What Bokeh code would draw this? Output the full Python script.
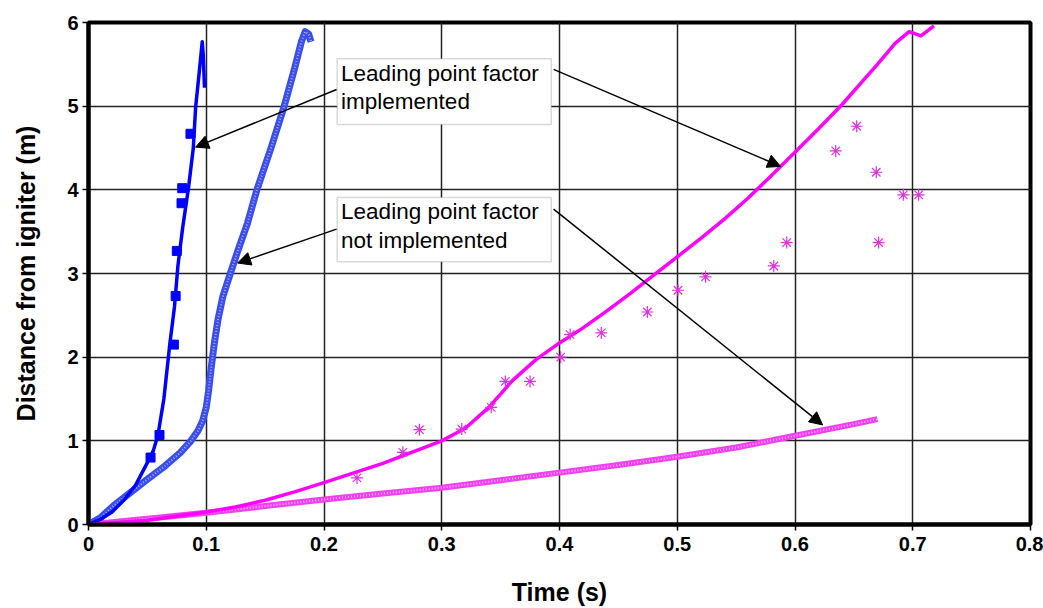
from bokeh.plotting import figure
from bokeh.models import (Arrow, NormalHead, Label, BoxAnnotation, FixedTicker,
                          CustomJSTickFormatter, Range1d)
from bokeh.embed import file_html
from bokeh.resources import INLINE

# ---------------- data ----------------
# Blue: leading point factor implemented (model line) + experiment squares
blue_impl_t = [0, 0.01, 0.02, 0.03, 0.04, 0.05, 0.055, 0.059, 0.064, 0.069, 0.073, 0.076,
               0.08, 0.085, 0.089, 0.091, 0.094, 0.0966, 0.0975, 0.0985]
blue_impl_y = [0, 0.06, 0.15, 0.29, 0.47, 0.74, 0.88, 1.07, 1.5, 2.15, 2.6, 3.1,
               3.55, 4.03, 4.5, 4.99, 5.4, 5.77, 5.6, 5.22]
blue_exp_t = [0.0527, 0.0603, 0.0725, 0.074, 0.075, 0.079, 0.0796, 0.0866]
blue_exp_y = [0.80, 1.07, 2.15, 2.73, 3.27, 3.84, 4.02, 4.67]
# Blue: leading point factor not implemented
blue_noimpl_t = [0, 0.01, 0.021, 0.03, 0.05, 0.065, 0.078, 0.087, 0.093, 0.097, 0.1, 0.102,
                 0.104, 0.107, 0.11, 0.114, 0.12, 0.127, 0.135, 0.143, 0.155, 0.166,
                 0.175, 0.181, 0.184, 0.187, 0.189]
blue_noimpl_y = [0, 0.08, 0.22, 0.32, 0.54, 0.70, 0.86, 1.0, 1.12, 1.24, 1.4, 1.6,
                 1.85, 2.18, 2.45, 2.72, 2.98, 3.28, 3.6, 4.0, 4.5, 4.99,
                 5.45, 5.78, 5.89, 5.86, 5.77]
# Magenta: leading point factor implemented + experiment asterisks
mag_impl_t = [0, 0.05, 0.1, 0.125, 0.15, 0.175, 0.2, 0.25, 0.3, 0.32, 0.34, 0.36, 0.38, 0.4,
              0.42, 0.44, 0.46, 0.48, 0.5, 0.52, 0.54, 0.56, 0.58, 0.6, 0.62, 0.64, 0.655,
              0.67, 0.685, 0.697, 0.707, 0.718]
mag_impl_y = [0, 0.05, 0.15, 0.21, 0.29, 0.39, 0.5, 0.73, 1.0, 1.15, 1.4, 1.72, 1.97, 2.17,
              2.35, 2.55, 2.76, 2.98, 3.2, 3.42, 3.65, 3.9, 4.17, 4.45, 4.73, 5.02, 5.26,
              5.5, 5.75, 5.89, 5.84, 5.96]
mag_exp_t = [0.228, 0.267, 0.281, 0.317, 0.342, 0.354, 0.375, 0.401, 0.409, 0.4355, 0.4746,
             0.5006, 0.524, 0.582, 0.593, 0.6346, 0.6524, 0.669, 0.671, 0.692, 0.705]
mag_exp_y = [0.557, 0.863, 1.133, 1.14, 1.40, 1.71, 1.71, 2.00, 2.27, 2.29, 2.54,
             2.80, 2.96, 3.09, 3.37, 4.465, 4.76, 4.21, 3.37, 3.94, 3.94]
# Magenta: leading point factor not implemented
mag_noimpl_t = [0, 0.05, 0.1, 0.15, 0.2, 0.25, 0.3, 0.35, 0.4, 0.45, 0.5, 0.55, 0.6, 0.65, 0.67]
mag_noimpl_y = [0, 0.07, 0.14, 0.22, 0.30, 0.37, 0.44, 0.53, 0.62, 0.71, 0.81, 0.92, 1.06, 1.2, 1.26]

x_ticks = [0, 0.1, 0.2, 0.3, 0.4, 0.5, 0.6, 0.7, 0.8]
y_ticks = [0, 1, 2, 3, 4, 5, 6]

FONT = "Liberation Sans"
BLUE = "#0000ff"
MAG = "#ff00ff"

p = figure(width=1043, height=608, output_backend="svg", toolbar_location=None,
           x_range=Range1d(0, 0.8), y_range=Range1d(0, 6),
           min_border_left=88, min_border_right=13, min_border_top=22, min_border_bottom=83)
p.background_fill_color = "white"
p.border_fill_color = "white"
p.outline_line_color = "black"
p.outline_line_width = 4

# axes
p.xaxis.ticker = FixedTicker(ticks=x_ticks)
p.yaxis.ticker = FixedTicker(ticks=y_ticks)
p.xaxis.formatter = CustomJSTickFormatter(code="return tick == 0 ? '0' : tick.toFixed(1);")
p.yaxis.formatter = CustomJSTickFormatter(code="return tick.toFixed(0);")
for ax in (p.xaxis, p.yaxis):
    ax.axis_line_width = 4
    ax.axis_line_color = "black"
    ax.major_tick_out = 6
    ax.major_tick_in = 0
    ax.major_tick_line_width = 1.5
    ax.major_tick_line_color = "black"
    ax.minor_tick_line_color = None
    ax.major_label_text_font = FONT
    ax.major_label_text_font_style = "bold"
    ax.major_label_text_font_size = "20px"
    ax.major_label_text_color = "black"
    ax.axis_label_text_font = FONT
    ax.axis_label_text_font_style = "bold"
    ax.axis_label_text_color = "black"
    ax.major_label_standoff = 6
p.yaxis.major_label_standoff = 4
p.xaxis.axis_label = "Time (s)"
p.xaxis.axis_label_text_font_size = "25px"
p.xaxis.axis_label_standoff = 24
p.yaxis.axis_label = "Distance from igniter (m)"
p.yaxis.axis_label_text_font_size = "25px"
p.yaxis.axis_label_standoff = 24

p.xgrid.ticker = FixedTicker(ticks=x_ticks)
p.ygrid.ticker = FixedTicker(ticks=y_ticks)
for g in (p.xgrid, p.ygrid):
    g.grid_line_color = "#222222"
    g.grid_line_width = 1.5

# hatched (not implemented) lines
p.line(blue_noimpl_t, blue_noimpl_y, line_color="#3a4ef0", line_width=7, line_join="round")
p.line(blue_noimpl_t, blue_noimpl_y, line_color="#c8ccff", line_width=2, line_dash="1 2", line_alpha=0.8)
p.line(mag_noimpl_t, mag_noimpl_y, line_color="#f040f0", line_width=6, line_join="round")
p.line(mag_noimpl_t, mag_noimpl_y, line_color="#ffc8ff", line_width=2, line_dash="1 2", line_alpha=0.8)

# implemented lines
p.line(blue_impl_t, blue_impl_y, line_color=BLUE, line_width=3.5, line_join="round")
p.line(mag_impl_t, mag_impl_y, line_color=MAG, line_width=3.5, line_join="round")

# experiments
p.scatter(blue_exp_t, blue_exp_y, marker="square", size=9, fill_color=BLUE, line_color=BLUE)
p.scatter(mag_exp_t, mag_exp_y, marker="asterisk", size=12, line_color="#e030e0", line_width=1.2)

# annotation boxes
for (b, t) in [(4.78, 5.567), (3.141, 3.909)]:
    p.add_layout(BoxAnnotation(left=0.2112, right=0.393, bottom=b, top=t,
                               fill_color="white", fill_alpha=1.0,
                               line_color="#808080", line_width=1.5))
for (txt, y) in [("Leading point factor", 5.392), ("implemented", 5.058),
                 ("Leading point factor", 3.737), ("not implemented", 3.40)]:
    p.add_layout(Label(x=0.2145, y=y, text=txt, text_font=FONT, text_font_size="22.5px",
                       text_baseline="middle", text_align="left", text_color="black"))

# arrows
for (x0, y0, x1, y1) in [(0.2107, 5.20, 0.0909, 4.51), (0.2107, 3.53, 0.1266, 3.125),
                         (0.395, 5.44, 0.5878, 4.28), (0.395, 3.77, 0.6235, 1.19)]:
    p.add_layout(Arrow(x_start=x0, y_start=y0, x_end=x1, y_end=y1, line_width=1.5,
                       line_color="black",
                       end=NormalHead(size=13, fill_color="black", line_color="black")))

open("out.html", "w").write(file_html(p, INLINE))
